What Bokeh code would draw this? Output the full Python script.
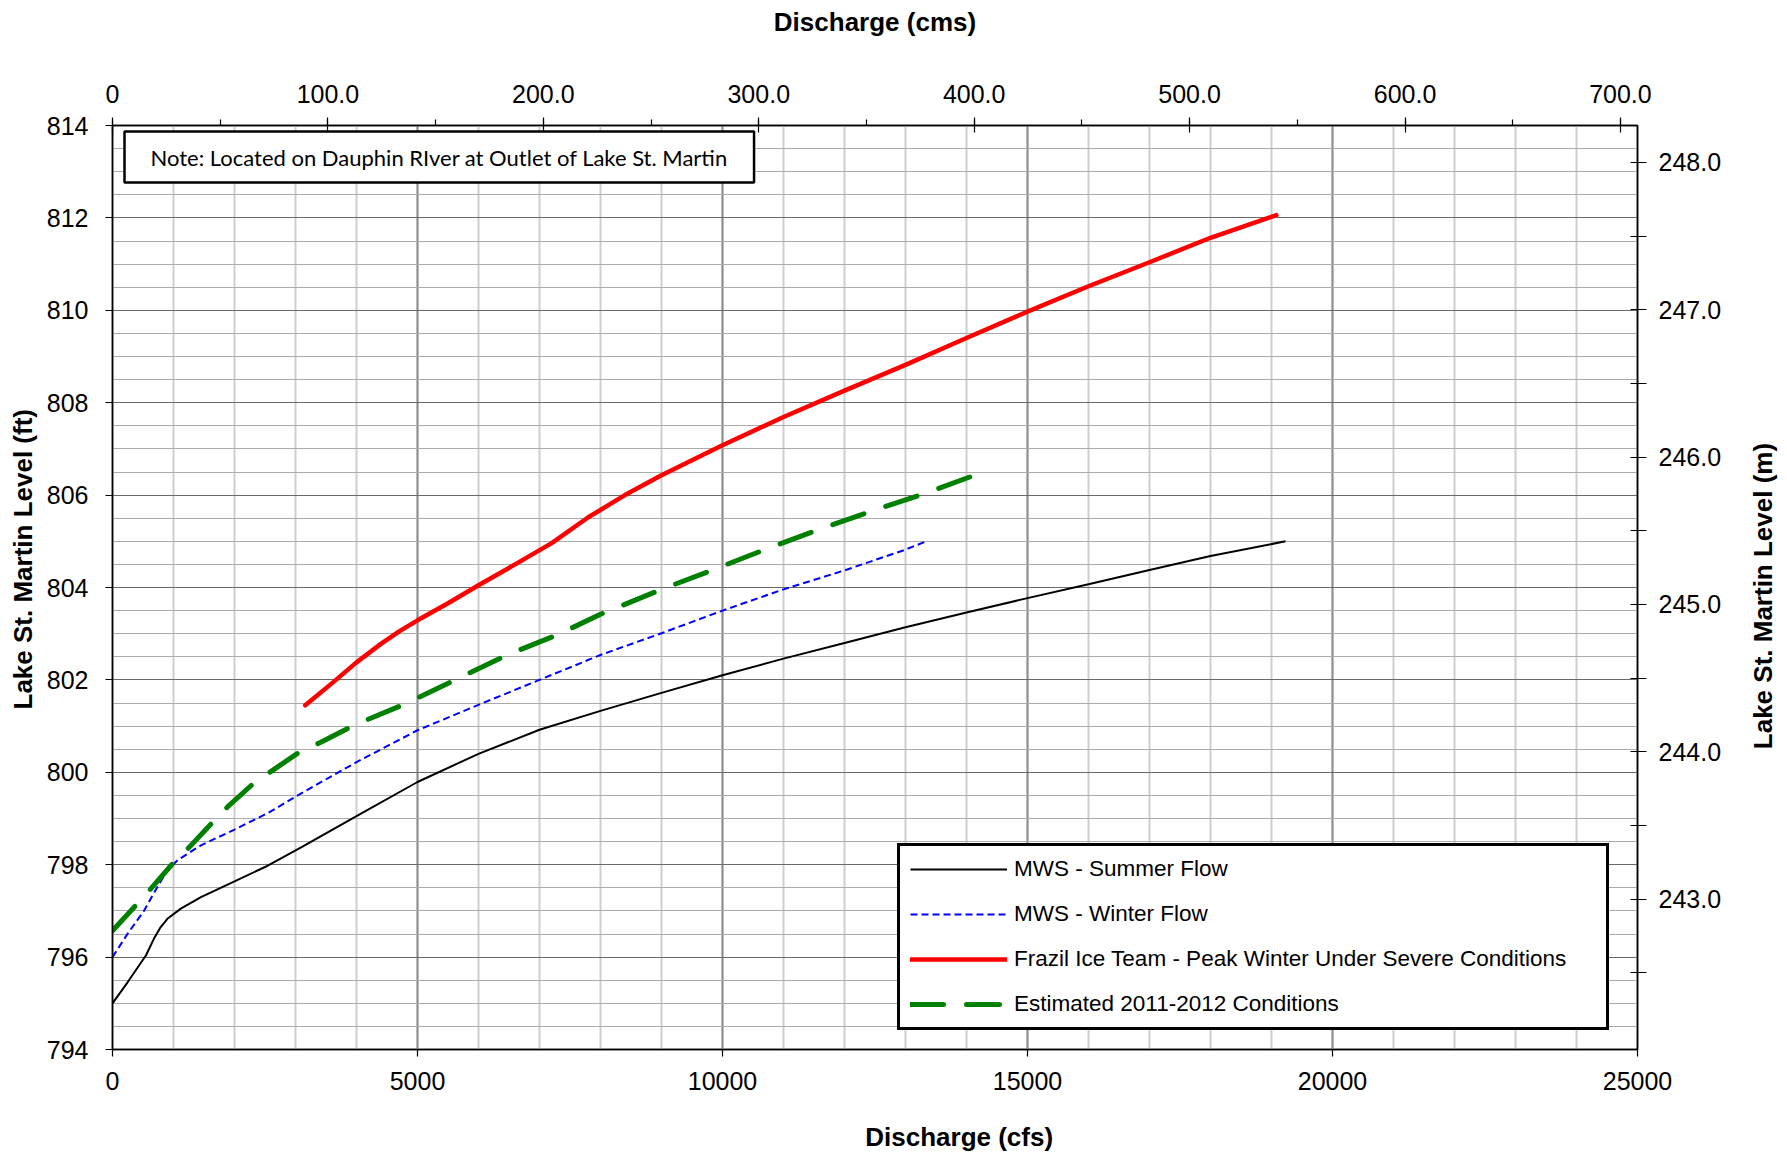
import math

from bokeh.plotting import figure
from bokeh.models import (Range1d, LinearAxis, SingleIntervalTicker, FixedTicker,
                          Legend, LegendItem, Label, Title, NumeralTickFormatter)
from bokeh.embed import file_html
from bokeh.resources import INLINE

# ---- rating curves: discharge (cfs) vs Lake St. Martin level (ft) ----
summer_cfs = [0, 250, 550, 680, 790, 900, 1120, 1450, 2000, 2500, 3100, 4000,
              5000, 6000, 7000, 8000, 9000, 10000, 11000, 12000, 13000, 14000,
              15000, 16000, 17000, 18000, 19230]
summer_ft = [795.0, 795.46, 796.04, 796.4, 796.65, 796.83, 797.05, 797.30, 797.64,
             797.95, 798.38, 799.05, 799.79, 800.40, 800.92, 801.33, 801.72,
             802.10, 802.46, 802.80, 803.14, 803.46, 803.77, 804.07, 804.38,
             804.68, 805.0]

winter_cfs = [0, 250, 520, 710, 900, 1070, 1450, 2000, 2550, 3100, 4000, 5000,
              6000, 7000, 8000, 9000, 10000, 11000, 12000, 13000, 13340]
winter_ft = [796.0, 796.51, 797.01, 797.46, 797.88, 798.10, 798.42, 798.76, 799.12,
             799.55, 800.22, 800.91, 801.46, 802.0, 802.54, 803.01, 803.50,
             803.96, 804.37, 804.82, 805.0]

frazil_cfs = [3160, 3600, 4000, 4400, 4700, 5000, 5500, 6000, 6600, 7200, 7800,
              8400, 9000, 10000, 11000, 12000, 13000, 14000, 15000, 16000, 17000,
              18000, 19080]
frazil_ft = [801.45, 801.93, 802.38, 802.78, 803.05, 803.29, 803.66, 804.05, 804.50,
             804.96, 805.52, 806.0, 806.43, 807.08, 807.69, 808.26, 808.82, 809.40,
             809.97, 810.52, 811.04, 811.57, 812.06]

est_cfs = [0, 410, 630, 1010, 1260, 1670, 1885, 2320, 2600, 3090, 3415, 3960,
           4780, 5600, 6450, 7300, 8000, 9000, 9860, 10730, 11550, 12480, 13350, 14150]
est_ft = [796.57, 797.16, 797.48, 798.06, 798.38, 798.96, 799.25, 799.77, 800.02,
          800.46, 800.65, 801.02, 801.47, 801.99, 802.53, 802.98, 803.42, 803.96,
          804.39, 804.84, 805.24, 805.67, 806.05, 806.44]

series_names = ["MWS - Summer Flow", "MWS - Winter Flow",
                "Frazil Ice Team - Peak Winter Under Severe Conditions",
                "Estimated 2011-2012 Conditions"]

note_text = "Note: Located on Dauphin RIver at Outlet of Lake St. Martin"
title_bottom = "Discharge (cfs)"
title_top = "Discharge (cms)"
title_left = "Lake St. Martin Level (ft)"
title_right = "Lake St. Martin Level (m)"

# ---- axis extents and tick values ----
CFS_MIN, CFS_MAX = 0, 25000
FT_MIN, FT_MAX = 794, 814
CFS_PER_CMS = 35.3147
M_LABEL_RANGE = (241.98, 248.25)
m_major_ticks = [243.0, 244.0, 245.0, 246.0, 247.0, 248.0]
m_minor_ticks = [242.5, 243.5, 244.5, 245.5, 246.5, 247.5]

# anchor points (in axis units) where the bottom and right titles sit
BOTTOM_TITLE_AT = 13880      # cfs, centre of the title
RIGHT_TITLE_AT = 800.5       # ft, where the rotated title starts

# ---- page geometry (pixels) ----
FRAME_W, FRAME_H = 1525, 924
BORDER_L, BORDER_R, BORDER_T, BORDER_B = 112, 150, 125, 103

TICK_FONT = "Liberation Sans"
TICK_SIZE = "25px"
TITLE_SIZE = "26px"

p = figure(frame_width=FRAME_W, frame_height=FRAME_H,
           x_range=Range1d(CFS_MIN, CFS_MAX), y_range=Range1d(FT_MIN, FT_MAX),
           min_border_left=BORDER_L, min_border_right=BORDER_R,
           min_border_top=BORDER_T, min_border_bottom=BORDER_B,
           output_backend="svg", toolbar_location=None,
           background_fill_color="white", border_fill_color="white")
p.extra_x_ranges = {"cms": Range1d(CFS_MIN / CFS_PER_CMS, CFS_MAX / CFS_PER_CMS)}
p.extra_y_ranges = {"m": Range1d(*M_LABEL_RANGE)}

p.outline_line_color = "black"
p.outline_line_width = 1.5

# ---- primary axes ----
bottom = p.below[0]
left = p.left[0]

x_ticker = SingleIntervalTicker(interval=5000, num_minor_ticks=5)
y_ticker = SingleIntervalTicker(interval=2, num_minor_ticks=4)
bottom.ticker = x_ticker
left.ticker = y_ticker
bottom.formatter = NumeralTickFormatter(format="0")
left.formatter = NumeralTickFormatter(format="0")

for ax in (bottom, left):
    ax.axis_line_color = "black"
    ax.axis_line_width = 1.5
    ax.major_tick_line_color = "black"
    ax.major_tick_line_width = 1.2
    ax.major_tick_in = 0
    ax.major_tick_out = 7
    ax.minor_tick_line_color = None
    ax.major_label_text_font = TICK_FONT
    ax.major_label_text_font_size = TICK_SIZE
    ax.major_label_text_color = "black"
bottom.major_label_standoff = 15
left.major_label_standoff = 17

# ---- grid ----
p.xgrid.ticker = x_ticker
p.ygrid.ticker = y_ticker
p.xgrid.grid_line_color = "#8e8e8e"
p.xgrid.grid_line_width = 2
p.xgrid.minor_grid_line_color = "#cdcdcd"
p.xgrid.minor_grid_line_width = 2
p.ygrid.grid_line_color = "#6a6a6a"
p.ygrid.grid_line_width = 1.2
p.ygrid.minor_grid_line_color = "#ababab"
p.ygrid.minor_grid_line_width = 1.2

# ---- secondary axes: metric units ----
top = LinearAxis(x_range_name="cms",
                 ticker=SingleIntervalTicker(interval=100, num_minor_ticks=2),
                 formatter=NumeralTickFormatter(format="0.0"),
                 major_label_overrides={0: "0"},
                 axis_label=title_top)
right = LinearAxis(y_range_name="m",
                   ticker=FixedTicker(ticks=m_major_ticks, minor_ticks=m_minor_ticks),
                   formatter=NumeralTickFormatter(format="0.0"))
for ax in (top, right):
    ax.axis_line_color = "black"
    ax.axis_line_width = 1.5
    ax.major_tick_line_color = "black"
    ax.minor_tick_line_color = "black"
    ax.major_tick_line_width = 1.2
    ax.minor_tick_line_width = 1.2
    ax.major_label_text_font = TICK_FONT
    ax.major_label_text_font_size = TICK_SIZE
    ax.major_label_text_color = "black"
top.major_tick_in = 7
top.major_tick_out = 8
top.minor_tick_in = 0
top.minor_tick_out = 6
top.major_label_standoff = 15
top.axis_label_standoff = 45
top.axis_label_text_font = TICK_FONT
top.axis_label_text_font_size = TITLE_SIZE
top.axis_label_text_font_style = "bold"
top.axis_label_text_color = "black"
right.major_tick_in = 7
right.major_tick_out = 9
right.minor_tick_in = 7
right.minor_tick_out = 9
right.major_label_standoff = 12
p.add_layout(top, "above")
p.add_layout(right, "right")


# ---- axis titles ----
def title_axis(**kw):
    """A bare axis whose single labelled tick carries a title."""
    return LinearAxis(axis_line_color=None, major_tick_line_color=None,
                      minor_tick_line_color=None, major_tick_in=0, major_tick_out=0,
                      major_label_text_font=TICK_FONT,
                      major_label_text_font_size=TITLE_SIZE,
                      major_label_text_font_style="bold",
                      major_label_text_color="black", **kw)

p.add_layout(title_axis(ticker=FixedTicker(ticks=[BOTTOM_TITLE_AT], minor_ticks=[]),
                        major_label_overrides={BOTTOM_TITLE_AT: title_bottom},
                        major_label_standoff=29), "below")
p.add_layout(title_axis(ticker=FixedTicker(ticks=[RIGHT_TITLE_AT], minor_ticks=[]),
                        major_label_overrides={RIGHT_TITLE_AT: title_right},
                        major_label_orientation=math.pi / 2,
                        major_label_standoff=39), "right")
p.add_layout(Title(text=title_left, align="left", offset=340, standoff=11,
                   text_font=TICK_FONT, text_font_size=TITLE_SIZE,
                   text_font_style="bold", text_color="black"), "left")

# ---- curves ----
r_summer = p.line(summer_cfs, summer_ft, line_color="black", line_width=2)
r_winter = p.line(winter_cfs, winter_ft, line_color="#0000ff", line_width=2,
                  line_dash="7 4")
r_frazil = p.line(frazil_cfs, frazil_ft, line_color="#ff0000", line_width=4.5,
                  line_cap="round", line_join="round")
r_est = p.line(est_cfs, est_ft, line_color="#008000", line_width=5,
               line_dash="33 23", line_cap="round", line_join="round")

legend = Legend(
    items=[LegendItem(label=n, renderers=[r])
           for n, r in zip(series_names, [r_summer, r_winter, r_frazil, r_est])],
    location=(785, 19), margin=0, padding=10, spacing=19,
    glyph_width=97, glyph_height=20, label_standoff=7, label_width=582,
    label_text_font=TICK_FONT, label_text_font_size="22.5px",
    label_text_color="black",
    border_line_color="black", border_line_width=3, border_line_alpha=1.0,
    background_fill_color="white", background_fill_alpha=1.0)
p.add_layout(legend)

note = Label(x=12, y=FRAME_H - 6, x_units="screen", y_units="screen",
             anchor="top_left", text=note_text, text_font="Lato",
             text_font_size="22px", text_color="black",
             border_line_color="black", border_line_width=2.5,
             background_fill_color="white", background_fill_alpha=1.0,
             padding=(26, 12))
p.add_layout(note)

open("out.html", "w").write(file_html(p, INLINE))
